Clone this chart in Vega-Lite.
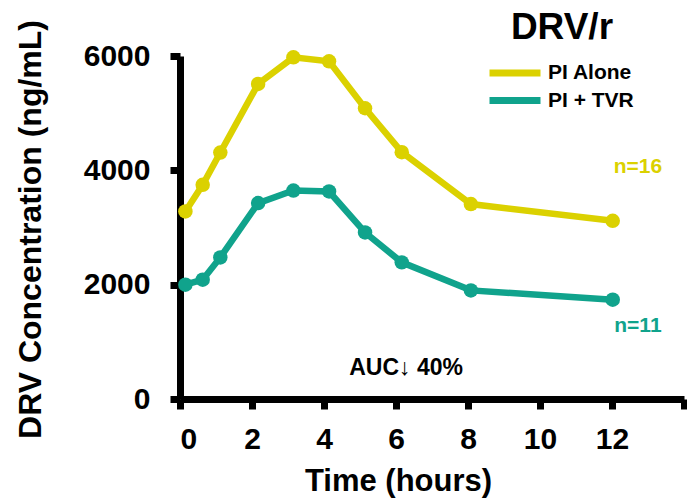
{
  "$schema": "https://vega.github.io/schema/vega-lite/v6.json",
  "width": 504,
  "height": 343,
  "autosize": {"type": "none"},
  "padding": {"left": 180, "top": 56, "right": 3, "bottom": 99},
  "config": {
    "view": {"stroke": null},
    "font": "Liberation Sans",
    "axis": {
      "grid": false,
      "domainColor": "black",
      "domainWidth": 7,
      "tickColor": "black",
      "tickWidth": 7,
      "tickSize": 10,
      "labelFont": "Liberation Sans",
      "labelFontSize": 30,
      "labelFontWeight": "bold",
      "labelColor": "black",
      "titleFont": "Liberation Sans",
      "titleFontWeight": "bold",
      "titleColor": "black"
    }
  },
  "datasets": {
    "pk": [
      {"group": "PI Alone", "time": 0.15, "conc": 3280},
      {"group": "PI Alone", "time": 0.63, "conc": 3747},
      {"group": "PI Alone", "time": 1.12, "conc": 4311},
      {"group": "PI Alone", "time": 2.17, "conc": 5511},
      {"group": "PI Alone", "time": 3.15, "conc": 5977},
      {"group": "PI Alone", "time": 4.14, "conc": 5907},
      {"group": "PI Alone", "time": 5.14, "conc": 5086},
      {"group": "PI Alone", "time": 6.16, "conc": 4318},
      {"group": "PI Alone", "time": 8.08, "conc": 3410},
      {"group": "PI Alone", "time": 12.02, "conc": 3118},
      {"group": "PI + TVR", "time": 0.15, "conc": 2000},
      {"group": "PI + TVR", "time": 0.63, "conc": 2087},
      {"group": "PI + TVR", "time": 1.12, "conc": 2477},
      {"group": "PI + TVR", "time": 2.17, "conc": 3427},
      {"group": "PI + TVR", "time": 3.15, "conc": 3647},
      {"group": "PI + TVR", "time": 4.14, "conc": 3630},
      {"group": "PI + TVR", "time": 5.14, "conc": 2913},
      {"group": "PI + TVR", "time": 6.16, "conc": 2390},
      {"group": "PI + TVR", "time": 8.08, "conc": 1900},
      {"group": "PI + TVR", "time": 12.02, "conc": 1738}
    ]
  },
  "layer": [
    {
      "data": {"name": "pk"},
      "mark": {"type": "line", "strokeWidth": 6.5, "point": {"filled": true, "size": 210, "opacity": 1}},
      "encoding": {
        "x": {
          "field": "time", "type": "quantitative",
          "scale": {"domain": [0, 14], "nice": false, "zero": false},
          "axis": {
            "values": [0, 2, 4, 6, 8, 10, 12, 14],
            "labelExpr": "datum.value == 14 ? '' : datum.label",
            "labelPadding": 15,
            "title": "Time (hours)",
            "titleFontSize": 31,
            "titleX": 218,
            "titleY": 91,
            "titleAlign": "center",
            "titleBaseline": "alphabetic"
          }
        },
        "y": {
          "field": "conc", "type": "quantitative",
          "scale": {"domain": [0, 6000], "nice": false},
          "axis": {
            "values": [0, 2000, 4000, 6000],
            "format": "d",
            "labelPadding": 20,
            "title": "DRV Concentration (ng/mL)",
            "titleFontSize": 32,
            "titleAngle": -90,
            "titleX": -140,
            "titleY": 173,
            "titleAlign": "center",
            "titleBaseline": "alphabetic"
          }
        },
        "color": {
          "field": "group", "type": "nominal",
          "scale": {"domain": ["PI Alone", "PI + TVR"], "range": ["#DBD100", "#10A38C"]},
          "legend": {
            "title": null,
            "orient": "none",
            "legendX": 306,
            "legendY": 7,
            "padding": 0,
            "symbolType": "stroke",
            "symbolSize": 2600,
            "symbolStrokeWidth": 7,
            "clipHeight": 20,
            "rowPadding": 6.5,
            "labelOffset": 4,
            "labelFont": "Liberation Sans",
            "labelFontSize": 21,
            "labelFontWeight": "bold",
            "labelColor": "black"
          }
        }
      }
    },
    {
      "data": {"values": [{"label": "n=16", "time": 12.72, "conc": 3948}]},
      "mark": {"type": "text", "font": "Liberation Sans", "fontSize": 21, "fontWeight": "bold", "color": "#DBD100", "align": "center", "baseline": "alphabetic"},
      "encoding": {
        "x": {"field": "time", "type": "quantitative"},
        "y": {"field": "conc", "type": "quantitative"},
        "text": {"field": "label"}
      }
    },
    {
      "data": {"values": [{"label": "n=11", "time": 12.72, "conc": 1177}]},
      "mark": {"type": "text", "font": "Liberation Sans", "fontSize": 21, "fontWeight": "bold", "color": "#10A38C", "align": "center", "baseline": "alphabetic"},
      "encoding": {
        "x": {"field": "time", "type": "quantitative"},
        "y": {"field": "conc", "type": "quantitative"},
        "text": {"field": "label"}
      }
    },
    {
      "data": {"values": [{"label": "AUC↓ 40%", "time": 6.28, "conc": 420}]},
      "mark": {"type": "text", "font": "Liberation Sans", "fontSize": 23, "fontWeight": "bold", "color": "black", "align": "center", "baseline": "alphabetic"},
      "encoding": {
        "x": {"field": "time", "type": "quantitative"},
        "y": {"field": "conc", "type": "quantitative"},
        "text": {"field": "label"}
      }
    },
    {
      "data": {"values": [{"label": "DRV/r", "time": 10.61, "conc": 6292}]},
      "mark": {"type": "text", "font": "Liberation Sans", "fontSize": 37, "fontWeight": "bold", "color": "black", "align": "center", "baseline": "alphabetic", "clip": false},
      "encoding": {
        "x": {"field": "time", "type": "quantitative"},
        "y": {"field": "conc", "type": "quantitative"},
        "text": {"field": "label"}
      }
    }
  ]
}
